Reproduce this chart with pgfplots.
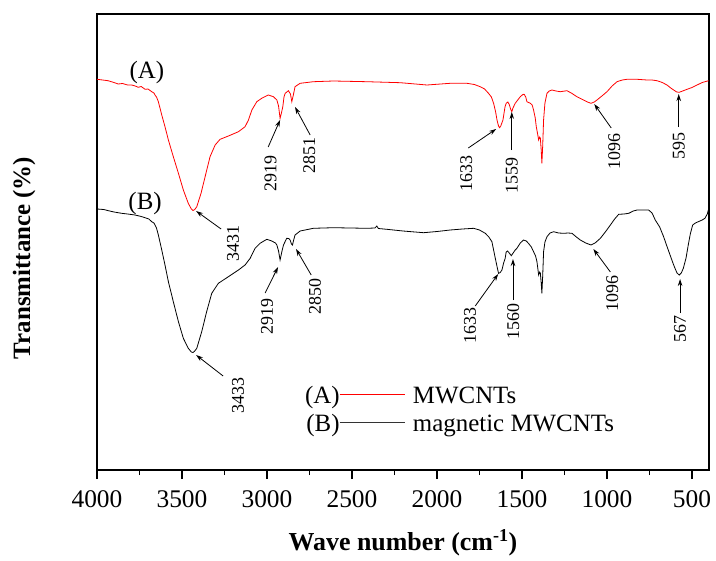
\documentclass[border=0pt]{standalone}
\usepackage{fontspec}
\setmainfont{Liberation Serif}
\usepackage{pgfplots}
\pgfplotsset{compat=1.18}
\usetikzlibrary{arrows.meta}
\begin{document}
\begin{tikzpicture}
\begin{axis}[
  width=612bp, height=456bp, scale only axis,
  xmin=400, xmax=4000, x dir=reverse,
  ymin=14, ymax=470, y dir=reverse,
  ytick=\empty,
  xtick={500,1000,...,4000},
  minor x tick num=1,
  xtick pos=bottom,
  tick align=outside,
  major tick length=9bp, minor tick length=5bp,
  axis line style={line width=1.1bp},
  every tick/.style={black, line width=1.1bp},
  /pgf/number format/assume math mode=true,
  /pgf/number format/1000 sep={},
  ticklabel style={font=\fontsize{25.5}{30}\selectfont},
  xticklabel style={yshift=-8bp},
  xlabel={\textbf{Wave number (cm\textsuperscript{-1})}},
  xlabel style={font=\fontsize{26}{30}\selectfont, at={(axis description cs:0.5,0)}, anchor=base, yshift=-80bp},
  ylabel={\textbf{Transmittance (\%)}},
  ylabel style={font=\fontsize{25}{30}\selectfont, at={(axis description cs:-0.119,0.465)}, anchor=center},
  legend style={draw=none, fill=none, inner sep=0pt, outer sep=0pt,
    at={(axis description cs:0.3399,0.129)}, anchor=west,
    font=\fontsize{25}{30}\selectfont, nodes={inner sep=1bp, text height=18bp, text depth=5bp}, row sep=3bp},
  legend cell align=left,
]
\addlegendimage{red, line width=0.8bp, legend image code/.code={\node[anchor=base east, inner sep=0pt, text=black, text height=18bp, text depth=0bp, font=\fontsize{25}{30}\selectfont] at (0bp,-6.5bp) {\raisebox{0pt}[\height][0pt]{(A)}}; \draw[red, line width=0.8bp] (0bp,3bp) -- (65bp,3bp); \path (72bp,0bp);}}
\addlegendentry{MWCNTs}
\addlegendimage{black!80, line width=0.8bp, legend image code/.code={\node[anchor=base east, inner sep=0pt, text=black, text height=18bp, text depth=0bp, font=\fontsize{25}{30}\selectfont] at (0bp,-6.5bp) {\raisebox{0pt}[\height][0pt]{(B)}}; \draw[black!80, line width=0.8bp] (0bp,3bp) -- (65bp,3bp); \path (72bp,0bp);}}
\addlegendentry{magnetic MWCNTs}

\addplot[red, line width=0.8bp, forget plot] coordinates {
(4000,79.3) (3935,80.7) (3900,82.5) (3875,84) (3850,83.5) (3820,85) (3796,85) (3775,86)
(3757,87.3) (3740,86.5) (3717,89.3) (3700,89) (3678,91.7) (3665,93) (3659,95) (3650,97)
(3639,101.7) (3619,115) (3600,126.7) (3580,140) (3551,156.7) (3521,173.3) (3492,190)
(3463,203.3) (3445,209) (3435,210.5) (3425,209.5) (3413,206.7) (3388,193.3) (3364,176.7)
(3335,156.7) (3305,145) (3276,139.3) (3227,136) (3168,131.7) (3129,126.7) (3109,120)
(3089,110) (3060,101.7) (3031,98.3) (3010,96.5) (2992,95) (2975,96) (2962,96.7) (2942,100)
(2932,106) (2923,118.3) (2915,113) (2907,106.7) (2900,97) (2893,93.3) (2874,90.7) (2862,94)
(2854,101.7) (2845,95) (2835,86.7) (2805,83.3) (2727,81.7) (2609,81) (2413,81.7) (2216,82.7)
(2059,85) (1922,83.3) (1824,83.3) (1780,84.5) (1746,86.7) (1720,89) (1697,93.3) (1680,97)
(1667,103.3) (1655,112) (1647,120) (1638,126) (1632,127.7) (1625,126) (1612,120) (1600,107)
(1593,103.3) (1583,102) (1575,104.5) (1567,109) (1560,111.7) (1553,108) (1540,103.3)
(1525,100) (1510,96.7) (1495,94.5) (1487,94.3) (1478,97) (1471,101.7) (1451,103.3)
(1440,105) (1432,110) (1422,118) (1416,126.7) (1408,134) (1402,140) (1396,137) (1392,138.3)
(1387,150) (1383,163.3) (1378,145) (1373,120) (1365,103) (1353,93.3) (1340,91) (1324,90)
(1300,91) (1275,91.7) (1236,90.7) (1210,93) (1177,96.7) (1138,100) (1115,102) (1094,103.3)
(1075,102) (1059,100) (1030,96) (1000,91.7) (970,86) (941,81.7) (910,80) (882,79.3)
(823,79.3) (765,80) (735,80) (706,80.7) (675,82.5) (647,85) (625,88) (608,90) (590,92)
(575,92.3) (555,91) (529,89.3) (500,87.5) (470,85) (440,82.5) (402,80.7)
};

\addplot[black, line width=0.8bp, forget plot] coordinates {
(4000,209) (3960,209.5) (3933,210.7) (3900,212) (3855,213.3) (3820,214) (3776,215)
(3740,216.5) (3717,217.7) (3695,219) (3678,221.7) (3665,223) (3659,225) (3650,228)
(3639,235) (3619,250) (3600,265) (3580,281.7) (3551,301.7) (3521,321.7) (3492,338.3)
(3463,348.3) (3445,352) (3435,352.5) (3425,351) (3413,348.3) (3384,331.7) (3355,311.7)
(3325,293.3) (3286,283.3) (3227,276.7) (3168,270) (3129,265) (3099,258.3) (3070,248.3)
(3041,243.3) (3001,239.3) (2972,241) (2950,243) (2942,245) (2932,251) (2923,260) (2913,252)
(2903,245) (2884,238.3) (2872,238.5) (2864,240) (2856,244) (2850,245) (2843,240) (2835,235)
(2805,231) (2727,228.3) (2609,227.7) (2413,228.3) (2365,228) (2354,226) (2345,228.5)
(2295,229.3) (2200,231) (2079,232.7) (2000,231.5) (1922,230) (1850,229) (1785,228.3)
(1750,230) (1716,233.3) (1695,237) (1677,241.7) (1667,250) (1657,258.3) (1645,268)
(1638,273.3) (1628,272.5) (1618,270) (1608,263) (1599,258.3) (1593,252) (1585,251)
(1575,253) (1563,255.7) (1552,253) (1540,250) (1530,248.3) (1510,243) (1491,240) (1475,241)
(1462,243.3) (1445,247) (1432,251.7) (1420,256) (1412,261.7) (1402,275) (1396,272)
(1392,273.3) (1387,283) (1383,293.3) (1378,275) (1373,251.7) (1365,242) (1353,236.7)
(1335,233) (1314,231.7) (1285,233) (1255,233.3) (1230,233) (1206,233.3) (1180,237)
(1157,240) (1125,243) (1094,245) (1070,243) (1039,238.3) (1010,232) (980,225) (955,219)
(931,214.3) (900,214) (872,213.3) (845,211) (823,210) (790,210) (755,210) (735,213)
(716,220) (690,227) (667,236.7) (648,246) (629,255) (610,264) (600,268.3) (588,273)
(575,275) (563,273) (551,268.3) (535,258) (522,245) (510,234) (496,225) (480,223)
(463,221.7) (440,220) (424,218.3) (410,214) (404,210) (400,209)
};

% curve labels
\node[font=\fontsize{25}{30}\selectfont, inner sep=0pt] at (axis cs:3706,73) {(A)};
\node[font=\fontsize{25}{30}\selectfont, inner sep=0pt] at (axis cs:3717,204) {(B)};

% annotations
\tikzset{ann/.style={-{Stealth[length=7bp,width=4.5bp]}, line width=0.8bp},
  lab/.style={rotate=90, anchor=east, inner sep=0pt, font=\fontsize{18}{22}\selectfont}}
% red
\draw[ann] (axis cs:3270,229) -- (axis cs:3417,211);
\node[lab] at (axis cs:3200,225) {3431};
\draw[ann] (axis cs:2993,147) -- (axis cs:2923,120);
\node[lab] at (axis cs:2979,155) {2919};
\draw[ann] (axis cs:2746,135) -- (axis cs:2835,107);
\node[lab] at (axis cs:2752,137) {2851};
\draw[ann] (axis cs:1816,148) -- (axis cs:1652,129);
\node[lab] at (axis cs:1828,155) {1633};
\draw[ann] (axis cs:1560,150) -- (axis cs:1560,112);
\node[lab] at (axis cs:1560,157) {1559};
\draw[ann] (axis cs:975,128) -- (axis cs:1075,104);
\node[lab] at (axis cs:957,133) {1096};
\draw[ann] (axis cs:578,127) -- (axis cs:578,94);
\node[lab] at (axis cs:578,132) {595};
% black
\draw[ann] (axis cs:3258,376) -- (axis cs:3417,355);
\node[lab] at (axis cs:3170,377) {3433};
\draw[ann] (axis cs:3011,293) -- (axis cs:2935,267);
\node[lab] at (axis cs:3000,298) {2919};
\draw[ann] (axis cs:2740,275) -- (axis cs:2829,249);
\node[lab] at (axis cs:2717,278) {2850};
\draw[ann] (axis cs:1775,306) -- (axis cs:1640,274);
\node[lab] at (axis cs:1805,307) {1633};
\draw[ann] (axis cs:1553,300) -- (axis cs:1553,259);
\node[lab] at (axis cs:1551,303) {1560};
\draw[ann] (axis cs:980,272) -- (axis cs:1080,249);
\node[lab] at (axis cs:969,275) {1096};
\draw[ann] (axis cs:570,313) -- (axis cs:570,279);
\node[lab] at (axis cs:570,315) {567};
\end{axis}
\pgfresetboundingbox
\path ([shift={(-97bp,-91bp)}]current axis.south west) rectangle ([shift={(7bp,14bp)}]current axis.north east);
\end{tikzpicture}
\end{document}
